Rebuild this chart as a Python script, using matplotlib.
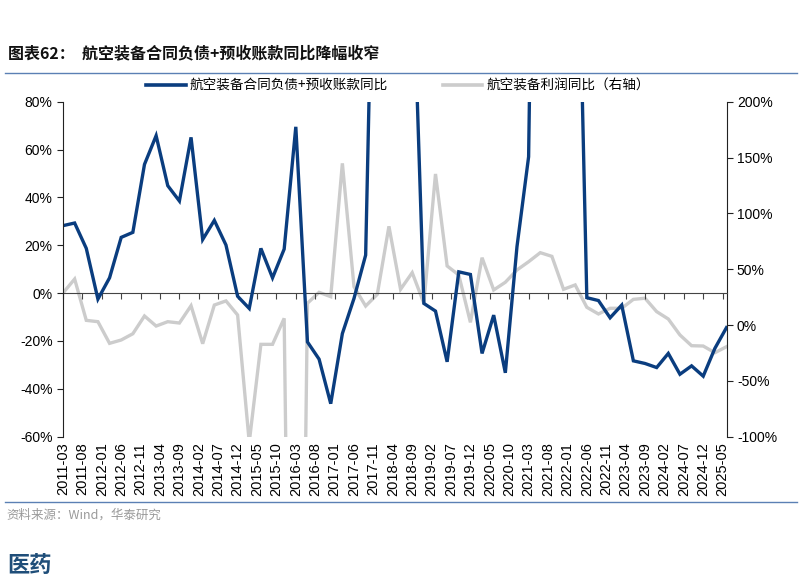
import matplotlib
matplotlib.use("Agg")
import matplotlib.pyplot as plt
from matplotlib.lines import Line2D

plt.rcParams["font.family"] = ["Liberation Sans", "Noto Sans CJK SC"]
CJK = ["Noto Sans CJK SC", "DejaVu Sans"]

BLUE = "#0A3D7F"
GRAY = "#CCCCCC"
RULE = "#5B80B4"

# 季度末：2011-03 ... 2025-06
quarters = [f"{y}-{m:02d}" for y in range(2011, 2026) for m in (3, 6, 9, 12)][:58]

# 航空装备合同负债+预收账款同比 (%)，左轴
contract_yoy = [
    28.2, 29.3, 18.7, -2.5, 6.4, 23.3, 25.4, 53.8, 65.8, 44.9,
    38.5, 65.1, 22.4, 30.4, 20.1, -1.3, -6.4, 18.7, 6.4, 18.4,
    69.5, -20.4, -27.6, -46.2, -16.9, -2.2, 15.9, 240.0, 350.0, 280.0,
    146.0, -4.3, -7.5, -28.7, 8.9, 7.8, -25.2, -9.2, -33.3, 19.4,
    57.0, 400.0, 500.0, 450.0, 214.0, -1.9, -3.1, -10.3, -5.0, -28.3,
    -29.4, -31.1, -25.2, -33.9, -30.4, -34.7, -23.1, -14.4,
]

# 航空装备利润同比 (%)，右轴
profit_yoy = [
    28.7, 41.2, 4.2, 3.0, -16.4, -13.4, -7.8, 8.1, -0.9, 3.0,
    1.8, 17.3, -16.7, 17.9, 21.6, 9.0, -105.0, -17.3, -17.3, 6.0,
    -800.0, 19.5, 29.3, 25.4, 144.8, 34.3, 17.0, 27.5, 88.4, 32.0,
    46.9, 19.5, 135.3, 52.9, 44.8, 2.4, 60.3, 31.4, 38.3, 49.3,
    56.7, 64.8, 61.5, 32.0, 35.9, 15.9, 9.9, 15.0, 15.0, 23.0,
    24.0, 12.0, 5.4, -8.9, -18.5, -18.8, -24.8, -19.4,
]

tick_labels = [
    "2011-03", "2011-08", "2012-01", "2012-06", "2012-11", "2013-04", "2013-09",
    "2014-02", "2014-07", "2014-12", "2015-05", "2015-10", "2016-03", "2016-08",
    "2017-01", "2017-06", "2017-11", "2018-04", "2018-09", "2019-02", "2019-07",
    "2019-12", "2020-05", "2020-10", "2021-03", "2021-08", "2022-01", "2022-06",
    "2022-11", "2023-04", "2023-09", "2024-02", "2024-07", "2024-12", "2025-05",
]


def month_index(label):
    """把 YYYY-MM 转成自 2011-03 起的月份数。"""
    year, month = label.split("-")
    return (int(year) - 2011) * 12 + int(month) - 3


x = [month_index(q) for q in quarters]
tick_pos = [month_index(t) for t in tick_labels]

fig = plt.figure(figsize=(8, 5.81), dpi=100)
W, H = 800, 581
ax = fig.add_axes([63 / W, 1 - 436.7 / H, (726.5 - 63) / W, (436.7 - 101.7) / H])
ax2 = ax.twinx()

ax2.plot(x, profit_yoy, color=GRAY, linewidth=2.4, solid_joinstyle="miter")
ax.plot(x, contract_yoy, color=BLUE, linewidth=2.4, solid_joinstyle="miter")
ax.set_zorder(ax2.get_zorder() + 1)
ax.patch.set_visible(False)

ax.set_xlim(x[0], x[-1])
ax.set_ylim(-60, 80)
ax2.set_ylim(-100, 200)

for a in (ax, ax2):
    for side in ("top", "bottom", "left", "right"):
        a.spines[side].set_visible(False)
ax.spines["left"].set_visible(True)
ax2.spines["right"].set_visible(True)
ax.spines["left"].set_color("#222222")
ax2.spines["right"].set_color("#222222")

ax.set_yticks(range(-60, 81, 20))
ax.set_yticklabels([f"{v}%" for v in range(-60, 81, 20)])
ax2.set_yticks(range(-100, 201, 50))
ax2.set_yticklabels([f"{v}%" for v in range(-100, 201, 50)])
ax.tick_params(axis="y", direction="out", length=4, labelsize=10, color="#222222")
ax2.tick_params(axis="y", direction="out", length=4, labelsize=10, color="#222222")

ax.set_xticks(tick_pos)
ax.set_xticklabels(tick_labels, rotation=90, fontsize=10.5)
ax.tick_params(axis="x", length=0, pad=4)

# 左轴 0% 处的横轴线及刻度
zero_axis = ax.secondary_xaxis(60 / 140)
zero_axis.set_xticks(tick_pos)
zero_axis.set_xticklabels([])
zero_axis.tick_params(direction="out", length=4, color="#444444")
zero_axis.spines["bottom"].set_color("#444444")

handles = [
    Line2D([], [], color=BLUE, linewidth=2.6),
    Line2D([], [], color=GRAY, linewidth=2.6),
]
fig.legend(
    handles,
    ["航空装备合同负债+预收账款同比", "航空装备利润同比（右轴）"],
    loc="center",
    bbox_to_anchor=(398 / W, 1 - 86 / H),
    ncol=2,
    frameon=False,
    handlelength=2.9,
    handletextpad=0.3,
    columnspacing=4.0,
    prop={"family": CJK, "size": 9.8},
)

fig.text(8 / W, 1 - 53 / H, "图表62：  航空装备合同负债+预收账款同比降幅收窄",
         family=CJK, fontsize=11.5, fontweight="bold", va="center", color="#111111")
fig.add_artist(Line2D([5 / W, 797 / W], [1 - 73 / H] * 2, color=RULE, linewidth=1.0))
fig.add_artist(Line2D([5 / W, 797 / W], [1 - 502 / H] * 2, color=RULE, linewidth=1.0))
fig.text(6 / W, 1 - 515 / H, "资料来源：Wind，华泰研究",
         family=CJK, fontsize=9, va="center", color="#9A9A9A")
fig.text(7 / W, 1 - 565 / H, "医药",
         family=CJK, fontsize=16, fontweight="bold", va="center", color="#1F4E79")

fig.savefig("out.png", dpi=100)
